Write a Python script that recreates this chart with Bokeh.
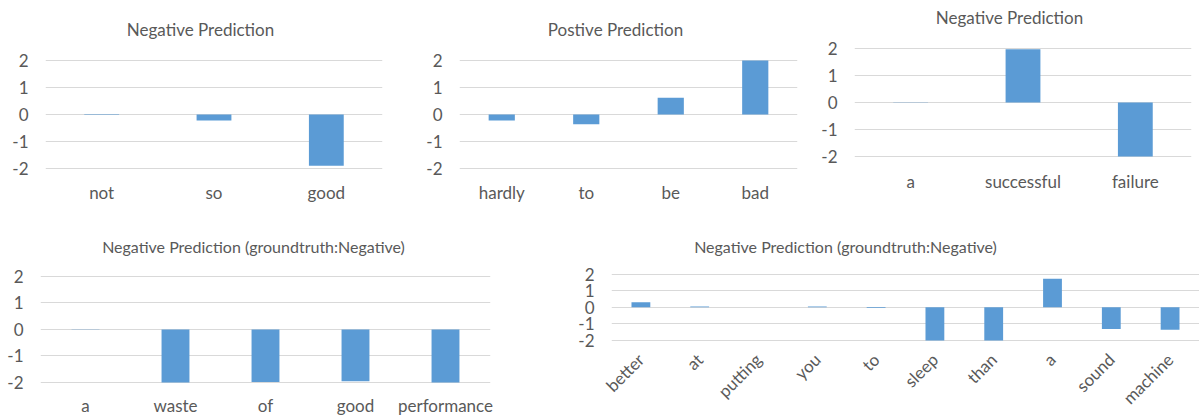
import math
from bokeh.plotting import figure
from bokeh.layouts import row, column
from bokeh.models import Range1d, FactorRange, FixedTicker, ColumnDataSource, Label
from bokeh.embed import file_html
from bokeh.resources import INLINE

# ---------------- data ----------------
titles = [
    "Negative Prediction",
    "Postive Prediction",
    "Negative Prediction",
    "Negative Prediction (groundtruth:Negative)",
    "Negative Prediction (groundtruth:Negative)",
]
words1 = ["not", "so", "good"]
scores1 = [-0.02, -0.22, -1.90]
words2 = ["hardly", "to", "be", "bad"]
scores2 = [-0.22, -0.36, 0.62, 2.0]
words3 = ["a", "successful", "failure"]
scores3 = [0.01, 1.97, -2.0]
words4 = ["a", "waste", "of", "good", "performance"]
scores4 = [0.01, -2.0, -1.98, -1.95, -2.0]
words5 = ["better", "at", "putting", "you", "to", "sleep", "than", "a", "sound", "machine"]
scores5 = [0.30, 0.05, 0.0, 0.05, -0.05, -2.0, -2.0, 1.72, -1.30, -1.35]
y_ticks = [-2, -1, 0, 1, 2]

FONT = "Lato"
FS = "17px"
TXT = "#595959"
BAR = "#5B9BD5"
GRID = "#D9D9D9"


def chart(title, words, scores, w, h, bl, br, bt, bb, g_top, g_bot,
          t_dx, t_dy, t_size, x_standoff, rotate=False, bar_w=0.31):
    """g_top / g_bot: pixel rows (from figure top) of the highest / lowest gridline.
    The frame reaches up to the top of the figure so the title can sit inside it."""
    lo, hi = min(y_ticks), max(y_ticks)
    unit = (g_bot - g_top) / (hi - lo)
    frame_bottom = h - bb
    y0 = lo - (frame_bottom - g_bot) / unit
    y1 = hi + (g_top - bt) / unit
    p = figure(x_range=FactorRange(*words), y_range=Range1d(y0, y1),
               width=w, height=h,
               min_border_left=bl, min_border_right=br,
               min_border_top=bt, min_border_bottom=bb,
               output_backend="svg", toolbar_location=None)
    src = ColumnDataSource(dict(word=words, score=scores))
    p.vbar(x="word", top="score", bottom=0, width=bar_w, source=src,
           fill_color=BAR, line_color=None)
    p.outline_line_color = None
    p.background_fill_color = "white"
    p.border_fill_color = "white"
    p.xgrid.grid_line_color = None
    p.ygrid.grid_line_color = GRID
    p.ygrid.grid_line_width = 1
    p.yaxis.ticker = FixedTicker(ticks=y_ticks)
    p.yaxis.major_label_overrides = {t: str(t) for t in y_ticks}
    for ax in (p.xaxis[0], p.yaxis[0]):
        ax.axis_line_color = None
        ax.major_tick_line_color = None
        ax.minor_tick_line_color = None
        ax.major_tick_out = 0
        ax.major_tick_in = 0
        ax.major_label_text_font = FONT
        ax.major_label_text_font_size = FS
        ax.major_label_text_color = TXT
    p.yaxis.major_label_standoff = 17
    p.xaxis.major_label_standoff = x_standoff
    if rotate:
        p.xaxis.major_label_orientation = math.pi / 4
    # chart title, centred over the chart area, placed above the top gridline
    p.add_layout(Label(x=len(words) / 2, y=hi, x_offset=t_dx, y_offset=t_dy,
                       text=title, text_align="center", text_baseline="middle",
                       text_font=FONT, text_font_size=t_size, text_color=TXT))
    return p


# top row: 205 px high; bottom row: 213 px high
p1 = chart(titles[0], words1, scores1, 400, 205, 45, 18, 2, 36, 60, 168, -13.5, 31, FS, 12)
p2 = chart(titles[1], words2, scores2, 400, 205, 59, 3, 2, 36, 60, 168, -13, 31, FS, 12)
p3 = chart(titles[2], words3, scores3, 399, 205, 54, 8, 2, 48, 48, 156, -13.5, 31, FS, 13)
p4 = chart(titles[3], words4, scores4, 575, 213, 40, 85, 2, 32, 72, 180, -12, 30, "16px", 11)
p5 = chart(titles[4], words5, scores5, 624, 213, 36, 0, 2, 74, 70, 138, -60, 28, "16px", 15,
           rotate=True, bar_w=0.32)

layout = column(row(column(p1), column(p2), column(p3)),
                row(column(p4), column(p5)))
open("out.html", "w").write(file_html(layout, INLINE))
